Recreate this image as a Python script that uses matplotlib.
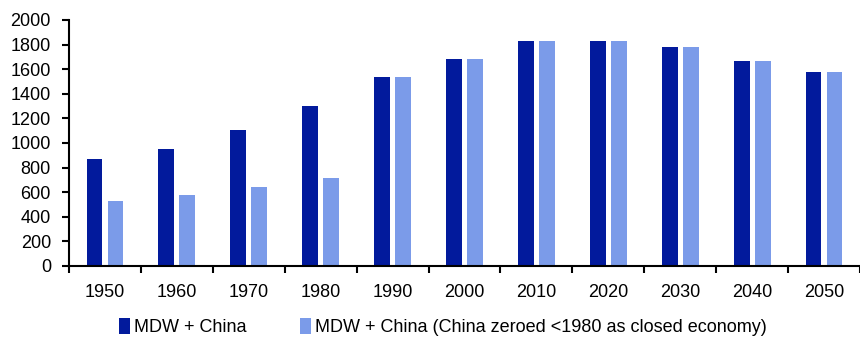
import numpy as np
import matplotlib.pyplot as plt

years = ['1950', '1960', '1970', '1980', '1990', '2000', '2010', '2020', '2030', '2040', '2050']
mdw_china = [867, 951, 1108, 1303, 1537, 1680, 1832, 1827, 1778, 1667, 1577]
mdw_china_zeroed = [528, 577, 645, 713, 1537, 1680, 1832, 1827, 1778, 1667, 1577]

dark = '#021a9c'
light = '#7b9be9'

plt.rcParams['font.family'] = ['Liberation Sans', 'DejaVu Sans']
plt.rcParams['font.size'] = 13

fig = plt.figure(figsize=(8.6, 3.37), dpi=100)
ax = fig.add_axes([0.0802, 0.2107, 0.9198, 0.73])

x = np.arange(len(years))
w = 0.22
ax.bar(x - 0.146, mdw_china, w, color=dark, label='MDW + China')
ax.bar(x + 0.146, mdw_china_zeroed, w, color=light,
       label='MDW + China (China zeroed <1980 as closed economy)')

ax.set_xlim(-0.5, len(years) - 0.5)
ax.set_ylim(0, 2000)
ax.set_yticks(range(0, 2001, 200))

# category labels centred, tick marks on the boundaries
ax.set_xticks(x)
ax.set_xticklabels(years)
ax.tick_params(axis='x', which='major', length=0, pad=13)
ax.set_xticks(np.arange(-0.5, len(years)), minor=True)
ax.tick_params(axis='x', which='minor', length=5, width=1.5, direction='out')
ax.tick_params(axis='y', length=5, width=1.5, direction='out', pad=8)

for side in ['top', 'right']:
    ax.spines[side].set_visible(False)
for side in ['left', 'bottom']:
    ax.spines[side].set_linewidth(1.5)

fig.legend(loc='lower center', bbox_to_anchor=(0.515, -0.045), ncol=2, frameon=False,
           handlelength=0.6, handleheight=1.0, handletextpad=0.2, columnspacing=3.0,
           fontsize=13)

fig.savefig('out.png', dpi=100)
